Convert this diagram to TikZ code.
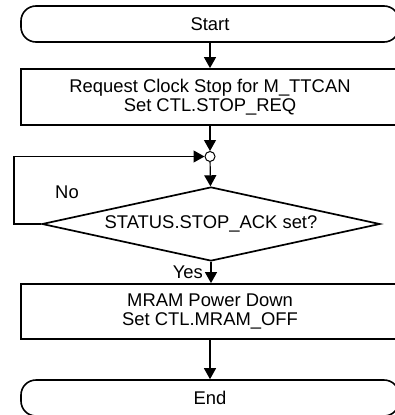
\documentclass[tikz,border=0pt]{standalone}
\usepackage{fontspec}
\setmainfont{Liberation Sans}
\usetikzlibrary{arrows.meta,shapes.geometric}
\begin{document}
\begin{tikzpicture}[x=1pt,y=-1pt,
  font=\fontsize{18.4}{19.5}\selectfont,
  term/.style={draw,line width=1.6pt,rounded corners=15pt,minimum width=378pt,minimum height=36pt,inner sep=0pt},
  proc/.style={draw,line width=1.8pt,minimum width=378pt,minimum height=56pt,inner sep=0pt,align=center},
  dec/.style={draw,diamond,line width=1.7pt,aspect=4.57,minimum width=338pt,minimum height=74pt,inner sep=0pt},
  junc/.style={draw,circle,line width=1pt,minimum size=10pt,inner sep=0pt,fill=white},
  flow/.style={line width=1.2pt,-{Triangle[width=12pt,length=11pt]}},
  lbl/.style={inner sep=0pt}]
\useasboundingbox (0,0) rectangle (395,415);
\clip (0,0) rectangle (395,415);
\node[term] (start) at (210,24) {Start};
\node[proc] (req) at (210,97) {Request Clock Stop for M\_TTCAN\\Set CTL.STOP\_REQ};
\node[junc] (jn) at (210,156.5) {};
\node[dec] (ack) at (211,224) {STATUS.STOP\_ACK set?};
\node[proc,minimum height=55pt] (mram) at (210,311.5) {MRAM Power Down\\Set CTL.MRAM\_OFF};
\node[term] (end) at (210,398) {End};
\coordinate (lp) at (14,224);
\node[lbl] (no) at (67,192) {No};
\node[lbl,anchor=east] (yes) at (203,272) {Yes};
\draw[flow] (start) -- (req);
\draw[flow] (req) -- (jn);
\draw[flow] (jn) -- (ack);
\draw[flow] (ack.west) -- (lp) |- (jn.west);
\draw[flow] (ack.south) -- (ack.south |- mram.north);
\draw[flow] (mram) -- (end);
\end{tikzpicture}
\end{document}
